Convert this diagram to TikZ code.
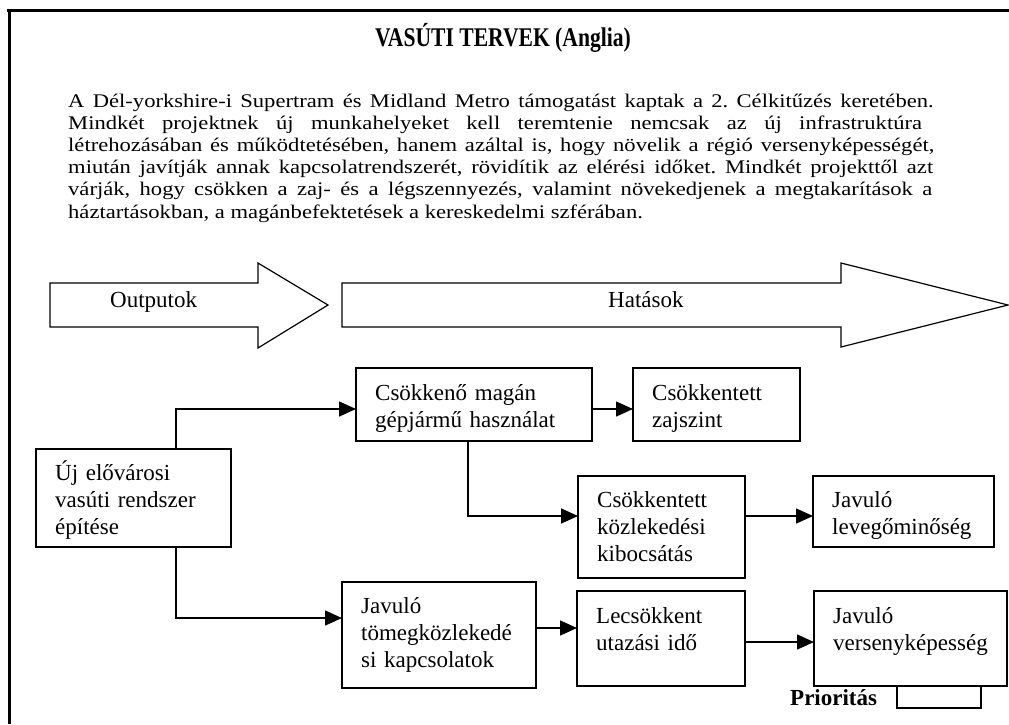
\documentclass[tikz,border=0pt]{standalone}
\usepackage{fontspec}
\setmainfont{Liberation Serif}
\newfontfamily\bodyfont[FakeStretch=1.17]{Liberation Serif}
\newfontfamily\titlefont[FakeStretch=0.8]{Liberation Serif}
\usetikzlibrary{arrows.meta}
\frenchspacing
\begin{document}
\begin{tikzpicture}[x=1pt,y=-1pt,
  frame/.style={line width=3pt},
  bigarrow/.style={draw,line width=1.2pt,line join=miter},
  box/.style={draw,line width=1.3pt,inner sep=0pt,outer sep=0pt,anchor=north west},
  btxt/.style={anchor=base west,inner sep=0pt,text width=220pt,align=left,font=\fontsize{23}{27}\selectfont},
  lbl/.style={anchor=base west,inner sep=0pt,font=\fontsize{23}{27}\selectfont},
  conn/.style={line width=1.5pt,-{Triangle[length=17pt,width=15pt]}}]
\useasboundingbox (0,0) rectangle (1009,724);
% frame
\draw[frame] (7,10) -- (1009,10);
\draw[frame] (9,8.5) -- (9,724);
% title
\node[anchor=base,inner sep=0pt,font=\titlefont\bfseries\fontsize{27}{30}\selectfont] (title) at (503,46) {VASÚTI TERVEK (Anglia)};
% body text
\node[anchor=base west,inner sep=0pt,text width=869pt,font=\bodyfont\fontsize{19.3}{22.2}\selectfont] (body) at (68,107) {\tolerance=9999\hbadness=10000\spaceskip=5.6pt plus 30pt minus 1.5pt%
A Dél-yorkshire-i Supertram és Midland Metro támogatást kaptak a 2. Célkitűzés keretében.\linebreak
Mindkét projektnek új munkahelyeket kell teremtenie nemcsak az új infrastruktúra\linebreak
létrehozásában és működtetésében, hanem azáltal is, hogy növelik a régió versenyképességét,\linebreak
miután javítják annak kapcsolatrendszerét, rövidítik az elérési időket. Mindkét projekttől azt\linebreak
várják, hogy csökken a zaj- és a légszennyezés, valamint növekedjenek a megtakarítások a\linebreak
háztartásokban, a magánbefektetések a kereskedelmi szférában.};
% big arrows
\draw[bigarrow] (50,283) -- (258,283) -- (258,263) -- (328,305) -- (258,348) -- (258,327) -- (50,327) -- cycle;
\draw[bigarrow] (342,283) -- (841,283) -- (841,263) -- (1008,305) -- (841,347) -- (841,327) -- (342,327) -- cycle;
\node[lbl] (outp) at (110,307) {Outputok};
\node[lbl] (hat) at (608,307) {Hatások};
% boxes
\node[box,minimum width=195pt,minimum height=98pt] (uj) at (36,449) {};
\node[btxt] (ujt) at (55,480) {Új elővárosi\\vasúti rendszer\\építése};
\node[box,minimum width=236pt,minimum height=73pt] (csok) at (356,368) {};
\node[btxt] (csokt) at (375,400) {Csökkenő magán\\gépjármű használat};
\node[box,minimum width=167pt,minimum height=73pt] (zaj) at (633,368) {};
\node[btxt] (zajt) at (652,400) {Csökkentett\\zajszint};
\node[box,minimum width=167pt,minimum height=102pt] (kozl) at (578,476) {};
\node[btxt] (kozlt) at (597,507) {Csökkentett\\közlekedési\\kibocsátás};
\node[box,minimum width=181pt,minimum height=71pt] (lev) at (813,476) {};
\node[btxt] (levt) at (832,507) {Javuló\\levegőminőség};
\node[box,minimum width=194pt,minimum height=106pt] (jt) at (342,582) {};
\node[btxt] (jtt) at (361,613) {Javuló\\tömegközlekedé\\si kapcsolatok};
\node[box,minimum width=168pt,minimum height=95pt] (lec) at (577,591) {};
\node[btxt] (lect) at (596,623) {Lecsökkent\\utazási idő};
\node[box,minimum width=193pt,minimum height=95pt] (vers) at (814,591) {};
\node[btxt] (verst) at (833,623) {Javuló\\versenyképesség};
% priority legend
\node[anchor=base west,inner sep=0pt,font=\bfseries\fontsize{23}{27}\selectfont] (prio) at (790,705) {Prioritás};
\node[box,minimum width=84pt,minimum height=22pt] (prbox) at (897,686) {};
% connectors
\coordinate (c1) at ([yshift=-4.5pt]csok.west);
\draw[conn] ([xshift=140pt]uj.north west) |- (c1);
\coordinate (c2) at ([yshift=17pt]jt.west);
\draw[conn] ([xshift=140pt]uj.south west) |- (c2);
\coordinate (c3) at ([yshift=11pt]kozl.west);
\draw[conn] ([xshift=112pt]csok.south west) |- (c3);
\coordinate (c4) at ([yshift=-4.5pt]csok.east);
\draw[conn] (c4) -- (c4 -| zaj.west);
\coordinate (c5) at ([yshift=11pt]kozl.east);
\draw[conn] (c5) -- (c5 -| lev.west);
\coordinate (c6) at ([yshift=7pt]jt.east);
\draw[conn] (c6) -- (c6 -| lec.west);
\coordinate (c7) at ([yshift=-3.5pt]lec.east);
\draw[conn] (c7) -- (c7 -| vers.west);
\end{tikzpicture}
\end{document}
